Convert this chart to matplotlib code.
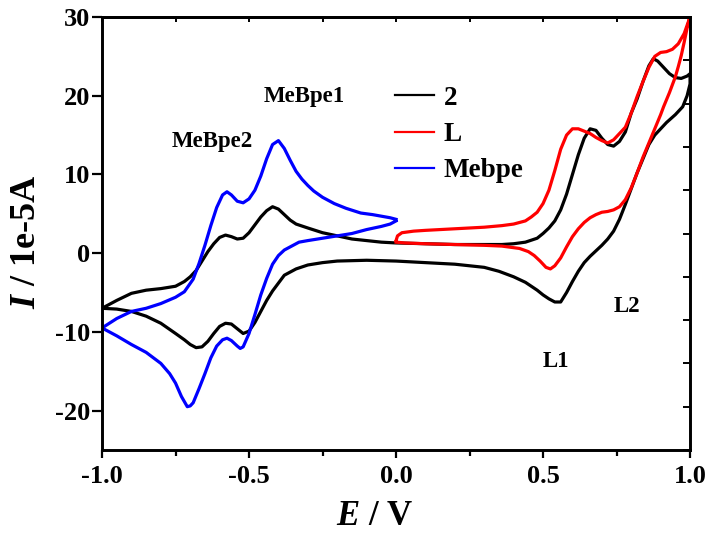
import numpy as np
import matplotlib
matplotlib.use("Agg")
import matplotlib.pyplot as plt
from matplotlib.ticker import MultipleLocator

plt.rcParams['font.family'] = 'Liberation Serif'
plt.rcParams['font.weight'] = 'bold'
plt.rcParams['mathtext.fontset'] = 'custom'
plt.rcParams['mathtext.it'] = 'Liberation Serif:italic:bold'
plt.rcParams['mathtext.rm'] = 'Liberation Serif:bold'
plt.rcParams['axes.unicode_minus'] = False

# complex 2 (black) - forward sweep -1.0 -> 1.0
e2_fwd = [-1.00, -0.95, -0.90, -0.85, -0.80, -0.75, -0.72, -0.70, -0.68, -0.66,
          -0.64, -0.62, -0.60, -0.58, -0.56, -0.54, -0.52, -0.50, -0.48, -0.46,
          -0.44, -0.42, -0.40, -0.38, -0.36, -0.34, -0.30, -0.25, -0.20, -0.15,
          -0.10, -0.05, 0.00, 0.10, 0.20, 0.30, 0.36, 0.40, 0.44, 0.48,
          0.50, 0.52, 0.54, 0.56, 0.58, 0.60, 0.62, 0.64, 0.66, 0.68,
          0.70, 0.72, 0.74, 0.76, 0.78, 0.80, 0.82, 0.84, 0.86, 0.875,
          0.89, 0.91, 0.93, 0.95, 0.97, 0.99, 1.00]
i2_fwd = [-7.0, -6.0, -5.1, -4.7, -4.5, -4.2, -3.6, -3.0, -2.2, -1.0,
          0.2, 1.2, 2.0, 2.3, 2.1, 1.8, 1.9, 2.6, 3.6, 4.6,
          5.4, 5.9, 5.6, 4.9, 4.2, 3.7, 3.2, 2.6, 2.2, 1.8,
          1.6, 1.4, 1.3, 1.2, 1.1, 1.1, 1.1, 1.2, 1.4, 1.9,
          2.5, 3.2, 4.1, 5.5, 7.5, 10.0, 12.5, 14.6, 15.8, 15.6,
          14.6, 13.8, 13.6, 14.2, 15.4, 17.8, 19.6, 21.8, 23.8, 24.7,
          24.4, 23.6, 22.8, 22.3, 22.2, 22.5, 22.8]
# complex 2 (black) - reverse sweep 1.0 -> -1.0
e2_rev = [1.00, 0.99, 0.975, 0.95, 0.92, 0.90, 0.88, 0.86, 0.84, 0.82,
          0.80, 0.78, 0.76, 0.74, 0.72, 0.70, 0.68, 0.66, 0.64, 0.62,
          0.60, 0.58, 0.56, 0.54, 0.52, 0.50, 0.48, 0.46, 0.44, 0.40,
          0.35, 0.30, 0.20, 0.10, 0.00, -0.10, -0.20, -0.25, -0.30, -0.34,
          -0.38, -0.40, -0.42, -0.44, -0.46, -0.48, -0.50, -0.52, -0.54, -0.56,
          -0.58, -0.60, -0.62, -0.64, -0.66, -0.68, -0.70, -0.72, -0.75, -0.80,
          -0.85, -0.90, -0.95, -1.00]
i2_rev = [21.5, 20.0, 18.6, 17.6, 16.6, 15.8, 15.0, 13.8, 12.0, 10.2,
          8.2, 6.2, 4.3, 2.8, 1.8, 1.0, 0.3, -0.4, -1.2, -2.3,
          -3.6, -5.0, -6.2, -6.2, -5.8, -5.3, -4.7, -4.2, -3.7, -3.0,
          -2.3, -1.8, -1.4, -1.2, -1.0, -0.9, -1.0, -1.2, -1.5, -2.0,
          -2.8, -3.8, -4.8, -6.0, -7.4, -8.8, -9.9, -10.2, -9.6, -9.0,
          -8.9, -9.3, -10.2, -11.2, -11.9, -12.0, -11.6, -11.0, -10.2, -8.9,
          -8.0, -7.4, -7.1, -7.0]

# ligand L (red)
eL_fwd = [0.00, 0.005, 0.02, 0.06, 0.10, 0.20, 0.30, 0.36, 0.40, 0.44,
          0.46, 0.48, 0.50, 0.52, 0.54, 0.56, 0.58, 0.60, 0.62, 0.64,
          0.66, 0.68, 0.70, 0.72, 0.74, 0.76, 0.78, 0.80, 0.82, 0.84,
          0.86, 0.88, 0.90, 0.92, 0.94, 0.96, 0.98, 1.00]
iL_fwd = [1.6, 2.2, 2.6, 2.8, 2.9, 3.1, 3.3, 3.5, 3.7, 4.1,
          4.6, 5.2, 6.3, 8.0, 10.5, 13.2, 15.0, 15.8, 15.8, 15.5,
          15.2, 14.7, 14.3, 14.0, 14.4, 15.2, 16.0, 17.8, 19.9, 21.8,
          23.6, 25.0, 25.5, 25.6, 25.9, 26.6, 27.9, 30.0]
eL_rev = [1.00, 0.99, 0.98, 0.97, 0.96, 0.95, 0.93, 0.91, 0.90, 0.88,
          0.86, 0.84, 0.82, 0.80, 0.78, 0.76, 0.74, 0.72, 0.70, 0.68,
          0.66, 0.64, 0.62, 0.60, 0.58, 0.56, 0.54, 0.525, 0.51, 0.49,
          0.47, 0.45, 0.42, 0.36, 0.30, 0.20, 0.10, 0.03, 0.00]
iL_rev = [30.0, 28.6, 26.8, 25.1, 23.7, 22.4, 20.4, 18.6, 17.6, 15.8,
          14.0, 12.2, 10.2, 8.3, 6.8, 5.9, 5.5, 5.3, 5.2, 4.9,
          4.5, 3.9, 3.1, 2.1, 0.8, -0.6, -1.6, -2.0, -1.8, -1.0,
          -0.3, 0.2, 0.6, 0.9, 1.0, 1.1, 1.2, 1.3, 1.4]

# Mebpe (blue)
eM_fwd = [0.00, -0.02, -0.05, -0.08, -0.12, -0.17, -0.21, -0.25, -0.28, -0.30,
          -0.32, -0.34, -0.36, -0.38, -0.40, -0.42, -0.44, -0.46, -0.48, -0.50,
          -0.52, -0.54, -0.56, -0.575, -0.59, -0.61, -0.63, -0.65, -0.67, -0.69,
          -0.72, -0.75, -0.80, -0.85, -0.90, -0.95, -1.00]
iM_fwd = [4.3, 4.5, 4.7, 4.9, 5.1, 5.7, 6.3, 7.1, 7.9, 8.6,
          9.4, 10.4, 11.8, 13.3, 14.3, 13.8, 12.0, 9.8, 8.0, 6.9,
          6.4, 6.6, 7.4, 7.8, 7.4, 5.8, 3.5, 1.0, -1.3, -3.3,
          -4.9, -5.6, -6.4, -7.0, -7.4, -8.3, -9.5]
eM_rev = [-1.00, -0.95, -0.90, -0.85, -0.80, -0.77, -0.75, -0.73, -0.71, -0.70,
          -0.69, -0.67, -0.65, -0.63, -0.61, -0.59, -0.575, -0.56, -0.54, -0.53,
          -0.52, -0.50, -0.48, -0.46, -0.44, -0.42, -0.40, -0.38, -0.35, -0.33,
          -0.30, -0.25, -0.20, -0.15, -0.10, -0.05, -0.02, 0.00]
iM_rev = [-9.5, -10.5, -11.6, -12.6, -14.0, -15.3, -16.5, -18.2, -19.5, -19.4,
          -19.0, -17.2, -15.3, -13.3, -11.8, -11.0, -10.8, -11.1, -11.8, -12.1,
          -11.9, -10.2, -7.8, -5.3, -3.2, -1.4, -0.3, 0.4, 1.0, 1.4,
          1.6, 1.9, 2.2, 2.5, 3.0, 3.4, 3.7, 4.1]

labels = ['2', 'L', 'Mebpe']

fig = plt.figure(figsize=(7.1, 5.35), dpi=100)
ax = fig.add_axes([0.1437, 0.1589, 0.8282, 0.8093])

lw = 2.3
ax.plot(e2_fwd + e2_rev, i2_fwd + i2_rev, color='black', lw=lw,
        solid_joinstyle='round', label=labels[0])
ax.plot(eL_fwd + eL_rev, iL_fwd + iL_rev, color='red', lw=lw,
        solid_joinstyle='round', label=labels[1])
ax.plot(eM_fwd + eM_rev, iM_fwd + iM_rev, color='blue', lw=lw,
        solid_joinstyle='round', label=labels[2])

ax.set_xlim(-1.0, 1.0)
ax.set_ylim(-25, 30)
ax.xaxis.set_major_locator(MultipleLocator(0.5))
ax.xaxis.set_minor_locator(MultipleLocator(0.25))
ax.set_yticks([-20, -10, 0, 10, 20, 30])
ax.xaxis.set_major_formatter(matplotlib.ticker.FormatStrFormatter('%.1f'))
ax.tick_params(axis='x', which='major', direction='out', length=6, width=1.6,
               labelsize=19, pad=5)
ax.tick_params(axis='x', which='minor', direction='out', length=4, width=1.6)
ax.tick_params(axis='y', which='major', direction='out', length=7.5, width=1.6,
               labelsize=19, pad=1)
for s in ax.spines.values():
    s.set_linewidth(1.9)

# top ticks (inside)
top = ax.secondary_xaxis('top')
top.set_xticks(np.arange(-1.0, 1.01, 0.25))
top.tick_params(direction='in', length=3.5, width=1.4, labeltop=False)
top.spines['top'].set_linewidth(1.9)

# right ticks (inside, 10 divisions)
ax2 = ax.twinx()
ax2.set_ylim(0, 10)
ax2.set_yticks(range(11))
ax2.tick_params(direction='in', length=5, width=1.4, labelright=False)
for s in ax2.spines.values():
    s.set_linewidth(1.9)

leg = ax.legend(loc='upper left', bbox_to_anchor=(0.498, 0.8415), frameon=False,
                fontsize=19.5, handlelength=1.45, handletextpad=0.35,
                labelspacing=0.42, borderpad=0, borderaxespad=0)
for ln in leg.get_lines():
    ln.set_linewidth(1.6)

ax.text(-0.313, 19.2, 'MeBpe1', ha='center', va='baseline', fontsize=16.5)
ax.text(-0.624, 13.5, 'MeBpe2', ha='center', va='baseline', fontsize=16.5)
ax.text(0.544, -14.5, 'L1', ha='center', va='baseline', fontsize=16.5)
ax.text(0.786, -7.5, 'L2', ha='center', va='baseline', fontsize=16.5)

fig.text(0.527, 0.019, r'$E$ / V', ha='center', va='baseline', fontsize=25)
fig.text(0.038, 0.5477, r'$I$ / 1e-5A', ha='center', va='center',
         rotation=90, fontsize=26)

fig.savefig('out.png', dpi=100)
